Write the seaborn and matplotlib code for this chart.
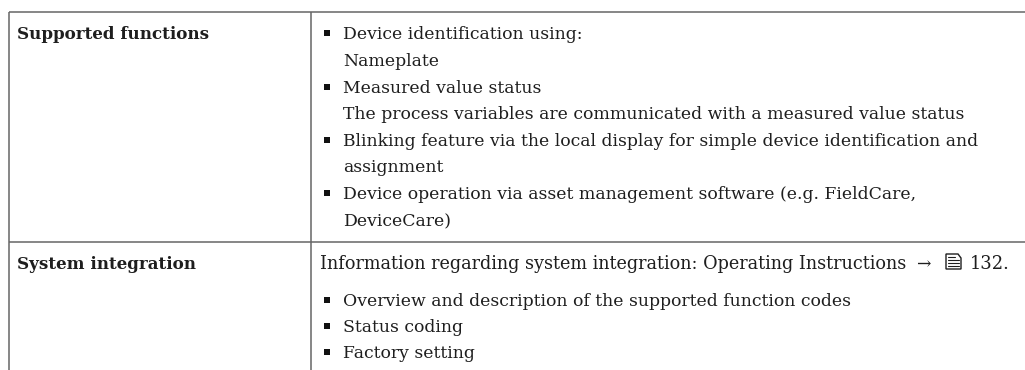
# Spec sheet table, drawn on a seaborn styled figure
import matplotlib.pyplot as plt
from matplotlib.patches import Polygon
import seaborn as sns

sns.set_style('white')
plt.rcParams['font.family'] = ['DejaVu Serif', 'DejaVu Sans']

W, H = 1025, 370
TXT = '#1e1e1e'
FS = 12.4

# table contents
row_titles = ['Supported functions', 'System integration']
row_title_y = [39, 269]

body_lines = [
    'Device identification using:', 'Nameplate', 'Measured value status',
    'The process variables are communicated with a measured value status',
    'Blinking feature via the local display for simple device identification and',
    'assignment', 'Device operation via asset management software (e.g. FieldCare,',
    'DeviceCare)', 'Overview and description of the supported function codes',
    'Status coding', 'Factory setting',
]
body_y = [39, 66, 93, 119, 146, 172, 199, 226, 306, 332, 358]
has_bullet = [True, False, True, False, True, False, True, False, True, True, True]

intro_text = 'Information regarding system integration: Operating Instructions'
intro_arrow = '\u2192'
intro_page = '132.'
intro_y = 269

col_lines_x = [9, 311]
row_lines_y = [12, 242]

fig = plt.figure(figsize=(W / 100, H / 100), dpi=100)
ax = fig.add_axes([0, 0, 1, 1])
ax.set_xlim(0, W)
ax.set_ylim(H, 0)
ax.axis('off')

for y in row_lines_y:
    ax.plot([col_lines_x[0], W], [y, y], color='#666666', lw=1.1, solid_capstyle='butt')
for x in col_lines_x:
    ax.plot([x, x], [row_lines_y[0], H], color='#666666', lw=1.1, solid_capstyle='butt')

for t, y in zip(row_titles, row_title_y):
    ax.text(17, y, t, fontsize=12.1, fontweight='bold', va='baseline', ha='left', color=TXT)

for t, y, b in zip(body_lines, body_y, has_bullet):
    ax.text(343, y, t, fontsize=FS, va='baseline', ha='left', color=TXT)
    if b:
        ax.scatter([327], [y - 6], marker='s', s=20, color='#111111', linewidths=0)

ax.text(320, intro_y, intro_text, fontsize=12.7, va='baseline', ha='left', color=TXT)
ax.text(923, intro_y, intro_arrow, fontsize=FS, va='baseline', ha='center', color=TXT)
ax.text(970, intro_y, intro_page, fontsize=12.9, va='baseline', ha='left', color=TXT)

# document icon, no installed font has this glyph
ax.add_patch(Polygon([(946, 254), (958, 254), (961, 258), (961, 269), (946, 269)],
                     closed=True, fill=False, edgecolor=TXT, lw=1))
for y in [260, 263, 266]:
    ax.plot([948, 959], [y, y], color=TXT, lw=0.8)
ax.plot([948, 955], [257, 257], color=TXT, lw=0.8)

fig.savefig('out.png', dpi=100)
